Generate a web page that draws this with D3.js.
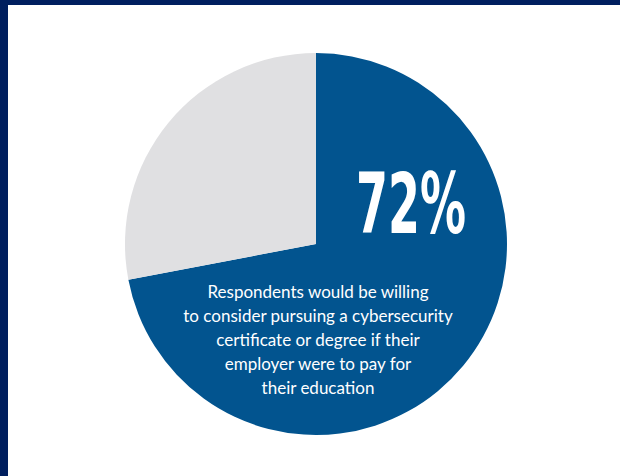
<!DOCTYPE html>
<html>
<head>
<meta charset="utf-8">
<script src="https://cdn.jsdelivr.net/npm/d3@7"></script>
<style>
  body { margin: 0; background: #fff; }
  svg { display: block; }
</style>
</head>
<body>
<div class="pie-chart-card"></div>
<script>
let categories = ["Would consider", "Would not"];
let values = [72, 28];
let colors = ["#02548f", "#e0e0e2"];
let bigLabel = "72%";
let captionLines = [
    "Respondents would be willing",
    "to consider pursuing a cybersecurity",
    "certificate or degree if their",
    "employer were to pay for",
    "their education"
];

let width = 620, height = 476;
let cx = 316, cy = 244, radius = 191;

let svg = d3.select(".pie-chart-card")
    .append("svg")
    .attr("width", width)
    .attr("height", height);

// frame
svg.append("rect").attr("x", 0).attr("y", 0).attr("width", width).attr("height", height).attr("fill", "#fff");
svg.append("rect").attr("x", 0).attr("y", 0).attr("width", width).attr("height", 5).attr("fill", "#001f5f");
svg.append("rect").attr("x", 0).attr("y", 0).attr("width", 8).attr("height", height).attr("fill", "#001f5f");

let pie = d3.pie().sort(null).value(d => d.value);
let arc = d3.arc().innerRadius(0).outerRadius(radius);

let color = d3.scaleOrdinal().domain(categories).range(colors);

let g = svg.append("g").attr("transform", "translate(" + cx + "," + cy + ")");

g.selectAll("path")
    .data(pie(categories.map((c, i) => ({ cat: c, value: values[i] }))))
    .enter()
    .append("path")
    .attr("d", arc)
    .attr("fill", d => color(d.data.cat));

// big number
g.append("text")
    .attr("x", 95)
    .attr("y", -11)
    .attr("text-anchor", "middle")
    .attr("fill", "#fff")
    .attr("font-family", "'Liberation Sans Narrow', 'DejaVu Sans Condensed', sans-serif")
    .attr("font-weight", "bold")
    .attr("font-size", 83)
    .attr("textLength", 110)
    .attr("lengthAdjust", "spacingAndGlyphs")
    .text(bigLabel);

// caption
g.append("text")
    .attr("text-anchor", "middle")
    .attr("fill", "#fff")
    .attr("font-family", "Lato, sans-serif")
    .attr("font-size", 17)
    .selectAll("tspan")
    .data(captionLines)
    .enter()
    .append("tspan")
    .attr("x", 2)
    .attr("y", (d, i) => 54 + i * 24)
    .text(d => d);
</script>
</body>
</html>
